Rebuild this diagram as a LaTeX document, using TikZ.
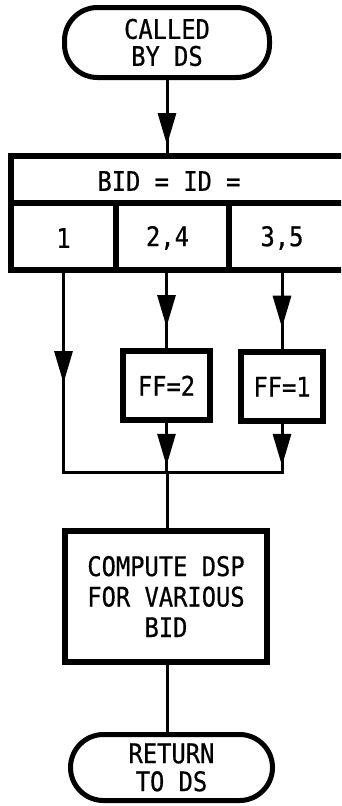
\documentclass[tikz,border=0pt]{standalone}
\usepackage{fontspec}
\setmonofont{DejaVu Sans Mono}[FakeStretch=0.88, FakeBold=0.6]
\usetikzlibrary{arrows.meta,decorations.markings}

\begin{document}
\begin{tikzpicture}[x=1pt, y=-1pt,
  every node/.style={font=\ttfamily\fontsize{27}{27}\selectfont, align=center, inner sep=0pt, outer sep=0pt},
  terminal/.style={draw, line width=5pt, rounded corners=33pt},
  block/.style={draw, line width=6pt},
  grid/.style={line width=5.5pt},
  conn/.style={line width=3pt, line cap=rect},
  midarrow/.style={postaction={decorate}, decoration={markings,
    mark=at position #1 with {\arrow{Triangle[length=32pt, width=18pt]}}}}]
  \useasboundingbox (0, 0) rectangle (341, 806);
  \clip (0, 0) rectangle (341, 806);

  \node[terminal, minimum width=205, minimum height=70] (called) at (167, 42.5) {CALLED\\BY DS};
  \node[draw, grid, minimum width=334, minimum height=114] (tab) at (178, 213) {};
  \draw[grid] (11, 203) -- (345, 203) (116, 203) -- (116, 270) (229, 203) -- (229, 270);
  \node (head) at (169, 181) {BID = ID =};
  \node (c1) at (63.5, 238) {1};
  \node (c24) at (167.5, 238) {2,4};
  \node (c35) at (282, 238) {3,5};
  \node[block, minimum width=87, minimum height=68.5] (ff2) at (166.5, 385.7) {FF=2};
  \node[block, minimum width=82, minimum height=68.5] (ff1) at (282, 386.7) {FF=1};
  \node[block, minimum width=202, minimum height=131, font=\ttfamily\fontsize{27}{30.5}\selectfont] (comp) at (166, 596.5) {COMPUTE DSP\\FOR VARIOUS\\BID};
  \node[terminal, minimum width=202, minimum height=66, font=\ttfamily\fontsize{27}{28}\selectfont] (ret) at (171.5, 767.5) {RETURN\\TO DS};
  \coordinate (jn) at (167, 472);

  \draw[conn, midarrow=0.86] (called.south) -- (called.south |- tab.north);
  \draw[conn, midarrow=0.56] (c1 |- tab.south) -- (c1 |- jn);
  \draw[conn, midarrow=0.70] (ff2 |- tab.south) -- (ff2.north);
  \draw[conn, midarrow=0.70] (ff1 |- tab.south) -- (ff1.north);
  \draw[conn, midarrow=0.88] (ff2.south) -- (ff2.south |- jn);
  \draw[conn, midarrow=0.88] (ff1.south) -- (ff1.south |- jn);
  \draw[conn] (c1 |- jn) -- (ff1.south |- jn);
  \draw[conn] (jn) -- (jn |- comp.north);
  \draw[conn] (jn |- comp.south) -- (jn |- ret.north);
\end{tikzpicture}
\end{document}
